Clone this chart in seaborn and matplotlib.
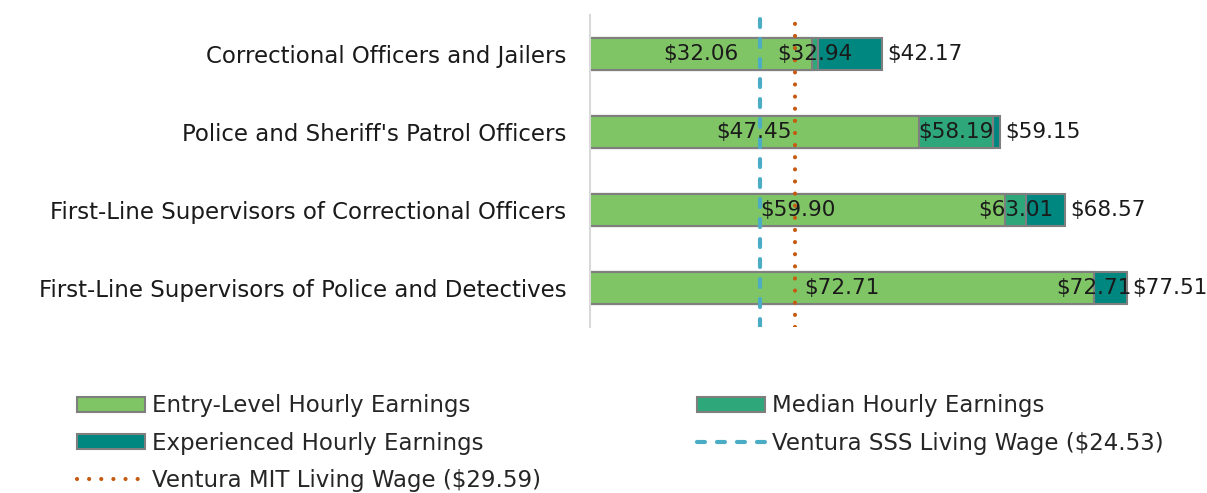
import matplotlib
matplotlib.use("Agg")
import matplotlib.pyplot as plt
import seaborn as sns
import pandas as pd
from matplotlib.patches import Patch
from matplotlib.lines import Line2D

# Data
occupations = [
    "Correctional Officers and Jailers",
    "Police and Sheriff's Patrol Officers",
    "First-Line Supervisors of Correctional Officers",
    "First-Line Supervisors of Police and Detectives",
]
entry_wage = [32.06, 47.45, 59.90, 72.71]
median_wage = [32.94, 58.19, 63.01, 72.71]
experienced_wage = [42.17, 59.15, 68.57, 77.51]
sss_wage = 24.53
mit_wage = 29.59

df = pd.DataFrame({
    "Occupation": occupations,
    "Entry": entry_wage,
    "Median": median_wage,
    "Experienced": experienced_wage,
})

c_entry = "#80c565"
c_median = "#2ea87b"
c_exp = "#00877f"
c_sss = "#4bacc6"
c_mit = "#c55a11"
edge = "#7f7f7f"

sns.set_style("white")
plt.rcParams["font.family"] = ["DejaVu Sans"]
fs = 16.5
fs_val = 15.5

fig = plt.figure(figsize=(12.07, 4.93), dpi=100)
ax = fig.add_axes([0.4888, 0.3367, 0.4970, 0.6329])

# overlapping bars: longest first so shorter ones sit on top
for col, colr in [("Experienced", c_exp), ("Median", c_median), ("Entry", c_entry)]:
    sns.barplot(data=df, x=col, y="Occupation", color=colr, width=0.41,
                edgecolor=edge, linewidth=1.5, saturation=1, ax=ax)

ax.axvline(sss_wage, color=c_sss, lw=3, linestyle=(0, (1.9, 2.9)),
           dash_capstyle="round", zorder=5)
ax.axvline(mit_wage, color=c_mit, lw=3, linestyle=(0, (0.01, 2.9)),
           dash_capstyle="round", zorder=5)

# value labels
for i in range(len(occupations)):
    ax.text(entry_wage[i] / 2, i, f"${entry_wage[i]:.2f}", ha="center",
            va="center", fontsize=fs_val, color="#1a1a1a", zorder=6)
    ax.text((entry_wage[i] + median_wage[i]) / 2, i, f"${median_wage[i]:.2f}",
            ha="center", va="center", fontsize=fs_val, color="#1a1a1a", zorder=6)
    ax.text(experienced_wage[i] + 0.8, i, f"${experienced_wage[i]:.2f}",
            ha="left", va="center", fontsize=fs_val, color="#1a1a1a", zorder=6)

ax.set_xlim(0, 86.6)
ax.set_ylim(3.5, -0.5)
ax.set_xlabel("")
ax.set_ylabel("")
ax.set_xticks([])
ax.tick_params(axis="y", length=0, pad=17, labelsize=fs, labelcolor="#1a1a1a")
for s in ["top", "right", "bottom"]:
    ax.spines[s].set_visible(False)
ax.spines["left"].set_color("#d9d9d9")
ax.spines["left"].set_linewidth(1.5)

handles = [
    Patch(facecolor=c_entry, edgecolor=edge, linewidth=1.5),
    Patch(facecolor=c_exp, edgecolor=edge, linewidth=1.5),
    Line2D([], [], color=c_mit, lw=3, linestyle=(0, (0.01, 2.9)), dash_capstyle="round"),
    Patch(facecolor=c_median, edgecolor=edge, linewidth=1.5),
    Line2D([], [], color=c_sss, lw=3, linestyle=(0, (1.9, 2.9)), dash_capstyle="round"),
]
labels = [
    "Entry-Level Hourly Earnings",
    "Experienced Hourly Earnings",
    "Ventura MIT Living Wage ($29.59)",
    "Median Hourly Earnings",
    "Ventura SSS Living Wage ($24.53)",
]
fig.legend(handles, labels, ncol=2, loc="upper left", bbox_to_anchor=(0.064, 0.2),
           frameon=False, fontsize=fs, handlelength=2.97, handleheight=0.65,
           handletextpad=0.3, columnspacing=6.8, labelspacing=0.62,
           borderaxespad=0, borderpad=0)

fig.savefig("out.png", dpi=100)
